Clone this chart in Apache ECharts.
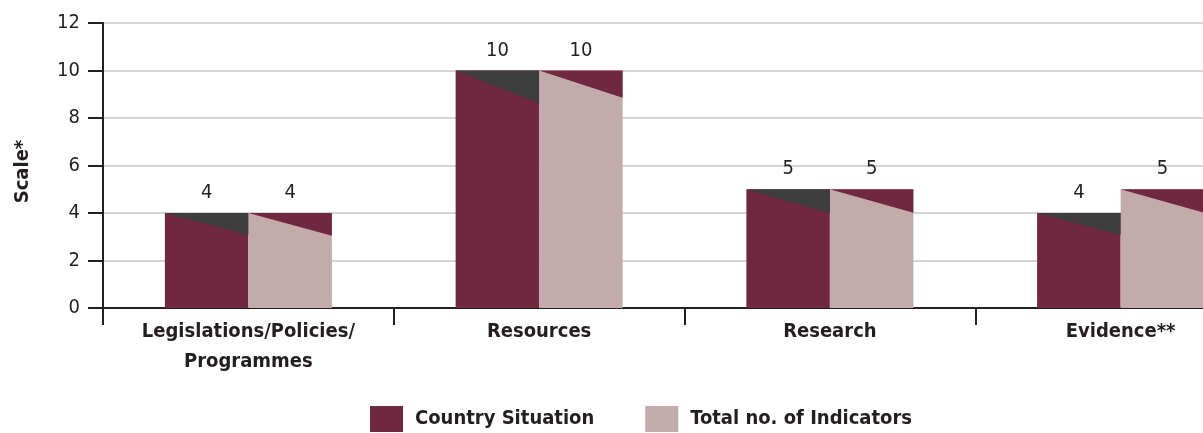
<!DOCTYPE html>
<html>
<head>
<meta charset="utf-8">
<script src="https://cdn.jsdelivr.net/npm/echarts@6/dist/echarts.min.js"></script>
<style>
  html, body { margin: 0; padding: 0; background: #ffffff; overflow: hidden; }
  /* the last category runs past the right edge of the page */
  #chart { width: 1266px; height: 433px; }
</style>
</head>
<body>
<div id="chart"></div>
<script>
// Areas of the assessment
const categories = ['Legislations/Policies/\nProgrammes', 'Resources', 'Research', 'Evidence**'];
// Score reached by the country in each area
const countrySituation = [4, 10, 5, 4];
// Number of indicators available in each area
const totalIndicators = [4, 10, 5, 5];
const yTicks = [0, 2, 4, 6, 8, 10, 12];

const FONT = '"Liberation Sans Narrow", "DejaVu Sans Condensed", "Arial Narrow", sans-serif';
const MAROON = '#702840';
const PINK = '#c4abab';
const SHADE = '#3d3d3d';
const INK = '#231f20';
const BAR_W = 83.5;

// Slanted cap drawn over the top of each bar
function capRenderer(offsetSign, color, base, slope) {
  return function (params, api) {
    const i = api.value(0);
    const v = api.value(1);
    const top = api.coord([i, v]);
    const zero = api.coord([i, 0]);
    const h = zero[1] - top[1];
    const drop = base + slope * h;
    const x0 = offsetSign < 0 ? top[0] - BAR_W : top[0];
    const x1 = x0 + BAR_W;
    return {
      type: 'polygon',
      shape: { points: [[x0, top[1]], [x1, top[1]], [x1, top[1] + drop]] },
      style: { fill: color }
    };
  };
}

const chart = echarts.init(document.getElementById('chart'), null, { renderer: 'canvas' });
chart.setOption({
  animation: false,
  textStyle: { fontFamily: FONT },
  grid: { left: 103, right: 0, top: 23, bottom: 125, containLabel: false },
  legend: {
    data: ['Country Situation', 'Total no. of Indicators'],
    left: 370,
    top: 406,
    padding: 0,
    icon: 'rect',
    itemWidth: 33,
    itemHeight: 26,
    itemGap: 51,
    textStyle: { fontFamily: FONT, fontSize: 20, fontWeight: 'bold', color: INK, padding: [6, 0, 0, 7] }
  },
  xAxis: {
    type: 'category',
    data: categories,
    axisLine: { lineStyle: { color: INK, width: 2 } },
    axisTick: { show: true, length: 17, lineStyle: { color: INK, width: 2 } },
    axisLabel: { color: INK, fontFamily: FONT, fontSize: 20, fontWeight: 'bold', lineHeight: 30, margin: 9 }
  },
  yAxis: {
    type: 'value',
    min: 0,
    max: 12,
    interval: 2,
    name: 'Scale*',
    nameLocation: 'middle',
    nameGap: 70,
    nameRotate: 90,
    nameTextStyle: { color: INK, fontFamily: FONT, fontSize: 20, fontWeight: 'bold', padding: [0, 12, 0, 0] },
    axisLine: { show: true, lineStyle: { color: INK, width: 2 } },
    axisTick: { show: true, length: 15, lineStyle: { color: INK, width: 2 } },
    axisLabel: {
      color: INK, fontFamily: FONT, fontSize: 20, margin: 23,
      formatter: v => (yTicks.indexOf(v) >= 0 ? String(v) : '')
    },
    splitLine: { show: true, lineStyle: { color: '#d4d4d4', width: 2 } }
  },
  series: [
    {
      name: 'Country Situation',
      type: 'bar',
      data: countrySituation,
      barWidth: BAR_W,
      barGap: '0%',
      itemStyle: { color: MAROON },
      label: { show: true, position: 'top', distance: 10, color: INK, fontFamily: FONT, fontSize: 20 },
      z: 2
    },
    {
      name: 'Total no. of Indicators',
      type: 'bar',
      data: totalIndicators,
      barWidth: BAR_W,
      barGap: '0%',
      itemStyle: { color: PINK },
      label: { show: true, position: 'top', distance: 10, color: INK, fontFamily: FONT, fontSize: 20 },
      z: 2
    },
    {
      name: 'countryCap',
      type: 'custom',
      data: countrySituation.map((v, i) => [i, v]),
      renderItem: capRenderer(-1, SHADE, 15, 0.075),
      encode: { x: 0, y: 1 },
      silent: true,
      z: 3
    },
    {
      name: 'totalCap',
      type: 'custom',
      data: totalIndicators.map((v, i) => [i, v]),
      renderItem: capRenderer(1, MAROON, 20, 0.03),
      encode: { x: 0, y: 1 },
      silent: true,
      z: 3
    }
  ]
});
</script>
</body>
</html>
